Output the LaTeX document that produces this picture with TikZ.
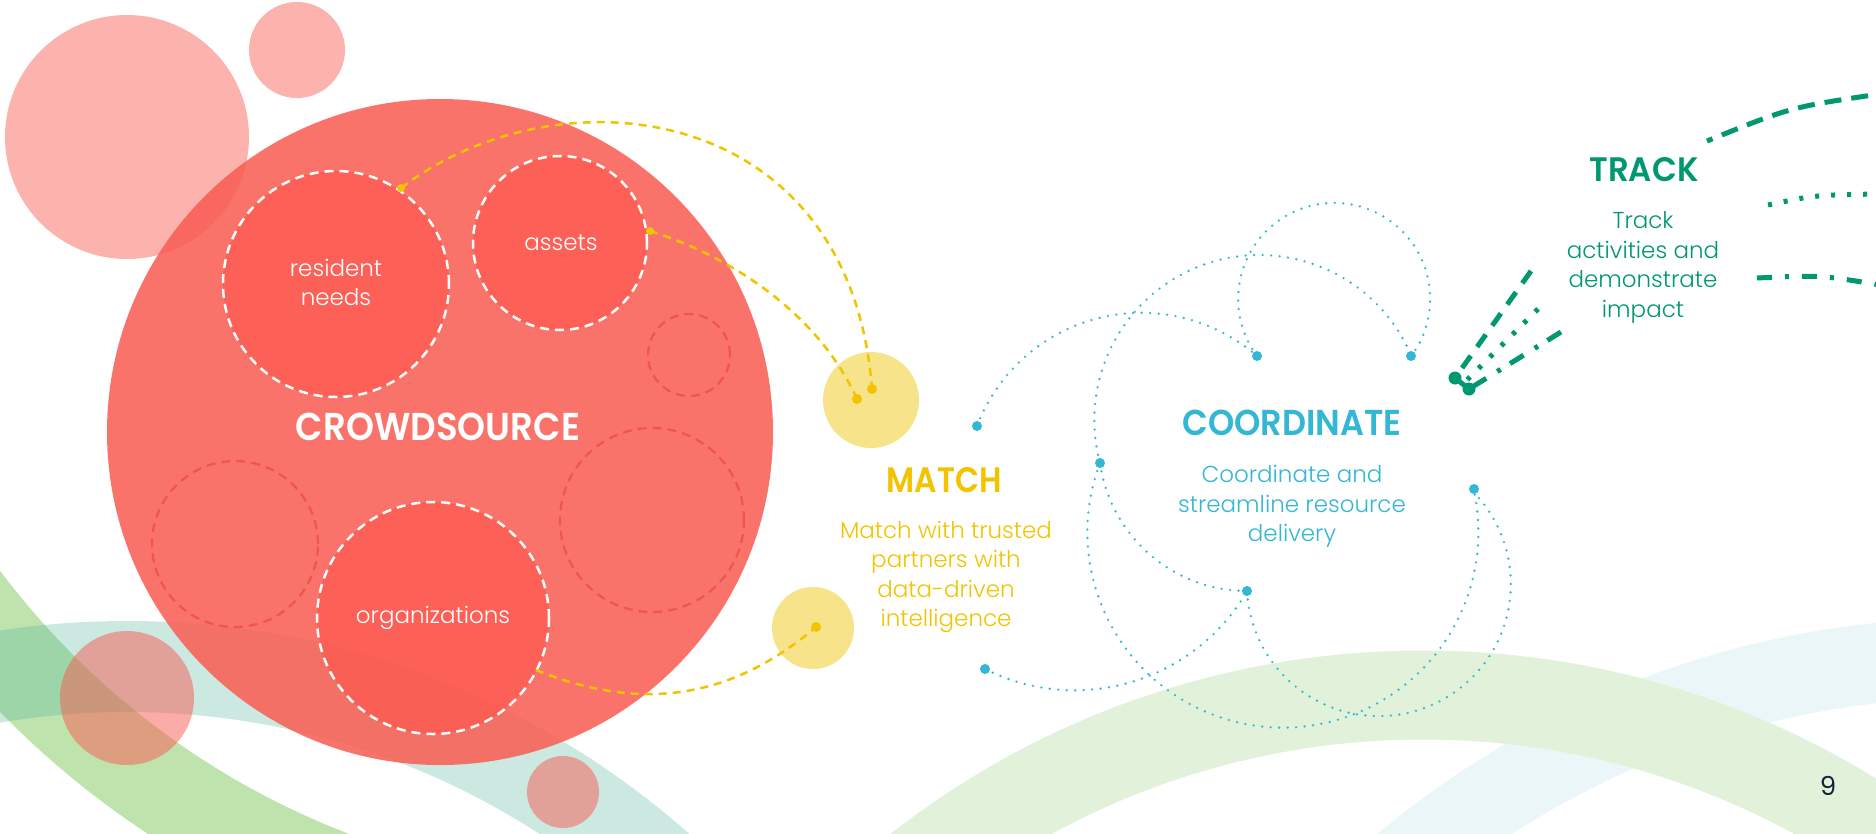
\documentclass[tikz,border=0pt]{standalone}
\usepackage{fontspec}
\usepackage{graphicx}
\setmainfont{Poppins}
\IfFontExistsTF{Poppins Light}{\newfontfamily\bdfont{Poppins Light}}{\newfontfamily\bdfont{Poppins}}
\IfFontExistsTF{Poppins SemiBold}{\newfontfamily\hdfont{Poppins SemiBold}}{\newfontfamily\hdfont{Poppins}[FakeBold=2]}
\definecolor{coral}{RGB}{249,91,80}
\definecolor{innerred}{RGB}{255,84,74}
\definecolor{dashred}{RGB}{240,84,74}
\definecolor{yel}{RGB}{242,196,0}
\definecolor{yelc}{RGB}{247,228,138}
\definecolor{blu}{RGB}{52,183,212}
\definecolor{grn}{RGB}{0,152,112}
\definecolor{gband}{RGB}{191,227,173}
\definecolor{tband}{RGB}{85,182,158}
\definecolor{gbandtwo}{RGB}{226,242,218}
\definecolor{bband}{RGB}{234,246,248}
\definecolor{navy}{RGB}{16,38,56}
\tikzset{
  bodytxt/.style={anchor=base, inner sep=0pt, font=\fontsize{23}{27}\selectfont\bdfont},
  headtxt/.style={anchor=base, inner sep=0pt},
  wdash/.style={draw=white, line width=2.5pt, dash pattern=on 9pt off 6pt},
  rdash/.style={draw=dashred, line width=2.2pt, dash pattern=on 9pt off 6pt},
  ydash/.style={draw=yel, line width=2.5pt, dash pattern=on 8pt off 6pt},
  bdot/.style={draw=blu, line width=2.6pt, line cap=round, dash pattern=on 0pt off 8.5pt},
  gline/.style={draw=grn, line width=5pt},
}
\begin{document}
\begin{tikzpicture}[x=1pt,y=1pt]
\useasboundingbox (0,-833) rectangle (1876,0);
\clip (0,-833) rectangle (1876,0);
\fill[white] (0,-833) rectangle (1876,0);
% background bands
\draw[bband, line width=80pt] (1972,-1544) circle (886pt);
\draw[gbandtwo, line width=89pt] (1423,-1515) circle (820pt);
\draw[gband, line width=92pt] (631,-97) ++(210:835pt) arc[start angle=210, end angle=250, radius=835pt];
\draw[tband, opacity=0.3, line width=91pt] (127,-1470) circle (803.5pt);
% pink circles
\fill[coral, opacity=0.46] (127,-137) circle (122pt);
\fill[coral, opacity=0.46] (297,-50) circle (48pt);
\fill[coral, opacity=0.5] (127,-698) circle (67pt);
\fill[coral, opacity=0.5] (563,-792) circle (36pt);
% big red circle
\fill[coral, opacity=0.85] (440,-432) circle (333pt);
% inner circles
\fill[innerred, opacity=0.6] (336,-284) circle (113pt);
\fill[innerred, opacity=0.6] (560,-243) circle (87pt);
\fill[innerred, opacity=0.6] (433,-618) circle (116pt);
\draw[wdash] (336,-284) circle (113pt);
\draw[wdash] (560,-243) circle (87pt);
\draw[wdash] (433,-618) circle (116pt);
\draw[rdash] (689,-355) circle (41pt);
\draw[rdash] (235,-544) circle (83pt);
\draw[rdash] (652,-520) circle (92pt);
% labels in red
\node[headtxt, text=white] (crowd) at (438,-440) {\resizebox{284pt}{27.5pt}{\hdfont CROWDSOURCE}};
\node[bodytxt, text=white] (res1) at (336,-276) {resident};
\node[bodytxt, text=white] (res2) at (336,-305) {needs};
\node[bodytxt, text=white] (ast) at (561,-250) {assets};
\node[bodytxt, text=white] (org) at (433,-623) {organizations};
% yellow circles
\fill[yelc] (871,-400) circle (48pt);
\fill[yelc] (813,-628) circle (41pt);
% yellow connectors
\coordinate (y1s) at (401,-188); \coordinate (y1e) at (872,-389);
\coordinate (y2s) at (650,-231); \coordinate (y2e) at (857,-399);
\coordinate (y3s) at (536,-670); \coordinate (y3e) at (816,-627);
\draw[ydash] (y1s) .. controls (560,-67) and (850,-101) .. (y1e);
\draw[ydash] (y2s) .. controls (736,-258) and (820,-317) .. (y2e);
\draw[ydash] (y3s) .. controls (640,-712) and (730,-700) .. (y3e);
\fill[yel] (y1s) circle (4pt);
\fill[yel] (y2s) circle (4pt);
\fill[yel] (y1e) circle (5pt);
\fill[yel] (y2e) circle (5pt);
\fill[yel] (y3e) circle (5pt);
% MATCH
\node[headtxt, text=yel] (match) at (944,-492) {\resizebox{115pt}{25pt}{\hdfont MATCH}};
\node[bodytxt, text=yel] (m1) at (946,-538) {Match with trusted};
\node[bodytxt, text=yel] (m2) at (946,-567) {partners with};
\node[bodytxt, text=yel] (m3) at (946,-597) {data-driven};
\node[bodytxt, text=yel] (m4) at (946,-626) {intelligence};
% blue dotted arcs
\coordinate (D1) at (1257,-356);
\coordinate (D2) at (1411,-356);
\coordinate (D3) at (1100,-463);
\coordinate (D4) at (1474,-489);
\coordinate (D5) at (1247,-591);
\coordinate (D6) at (977,-426);
\coordinate (D7) at (985,-669);
\draw[bdot] (D6) arc[start angle=159.1, end angle=49.2, radius=176pt];
\draw[bdot] (D1) arc[start angle=216.5, end angle=-36.5, radius=96pt];
\draw[bdot] (D3) arc[start angle=195.1, end angle=22.8, radius=165pt];
\draw[bdot] (D3) arc[start angle=159.3, end angle=372.7, radius=195.5pt];
\draw[bdot] (D3) arc[start angle=188.1, end angle=270, radius=149pt];
\draw[bdot] (D7) arc[start angle=243.3, end angle=329.8, radius=199.5pt];
\draw[bdot] (D5) arc[start angle=183, end angle=405, radius=132pt];
\foreach \d in {D1,D2,D3,D4,D5,D6,D7} \fill[blu] (\d) circle (5pt);
% COORDINATE
\node[headtxt, text=blu] (coord) at (1292,-435) {\resizebox{219pt}{25.5pt}{\hdfont COORDINATE}};
\node[bodytxt, text=blu] (c1) at (1292,-482) {Coordinate and};
\node[bodytxt, text=blu] (c2) at (1292,-512) {streamline resource};
\node[bodytxt, text=blu] (c3) at (1292,-541) {delivery};
% TRACK
\node[headtxt, text=grn] (track) at (1644,-181) {\resizebox{109pt}{24pt}{\hdfont TRACK}};
\node[bodytxt, text=grn] (t1) at (1643,-228) {Track};
\node[bodytxt, text=grn] (t2) at (1643,-258) {activities and};
\node[bodytxt, text=grn] (t3) at (1643,-287) {demonstrate};
\node[bodytxt, text=grn] (t4) at (1643,-317) {impact};
% green lines
\coordinate (g1) at (1455,-378);
\coordinate (g2) at (1469,-389);
\coordinate (ga) at (1531,-271);
\coordinate (gb) at (1538,-309);
\coordinate (gbe) at (1467,-380);
\coordinate (gc) at (1561,-332);
\draw[gline, dash pattern=on 15pt off 11pt] (ga) -- (g1);
\draw[gline, dash pattern=on 4pt off 12pt] (gb) -- (gbe);
\draw[gline, dash pattern=on 16pt off 11pt on 4pt off 13pt] (gc) -- (g2);
\draw[gline] (g1) -- (g2);
\fill[grn] (g1) circle (6.5pt);
\fill[grn] (g2) circle (6.5pt);
\coordinate (r1s) at (1707,-141); \coordinate (r1e) at (1880,-94);
\coordinate (r2s) at (1768,-205); \coordinate (r2e) at (1880,-194);
\coordinate (r3s) at (1757,-278); \coordinate (r3e) at (1880,-285);
\draw[gline, dash pattern=on 17pt off 10pt, dash phase=11pt] (r1s) .. controls (1791,-107) .. (r1e);
\draw[gline, dash pattern=on 4pt off 12pt] (r2s) .. controls (1815,-195) .. (r2e);
\draw[gline, dash pattern=on 15pt off 13pt on 4pt off 13pt] (r3s) .. controls (1820,-275) .. (r3e);
% page number
\node[anchor=base, inner sep=0pt, text=navy, font=\fontsize{26}{30}\selectfont] (pg) at (1828,-795) {9};
\end{tikzpicture}
\end{document}
